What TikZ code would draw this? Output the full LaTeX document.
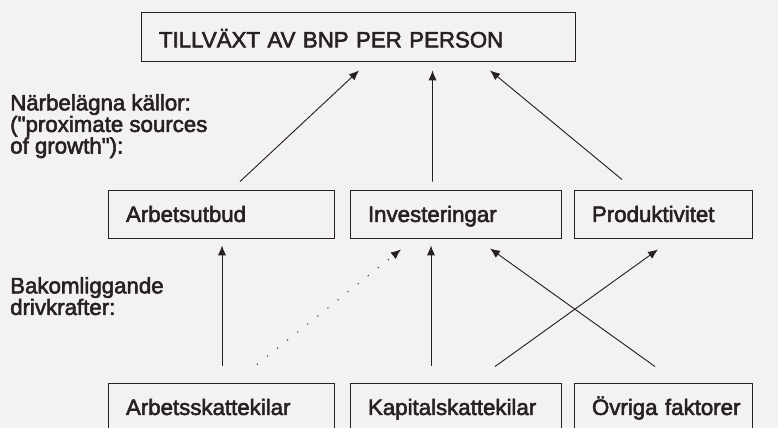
\documentclass[tikz,border=0pt]{standalone}
\usepackage{fontspec}
\setmainfont{Liberation Sans}[RawFeature={embolden=2.5}]
\usetikzlibrary{arrows.meta}
\definecolor{ink}{RGB}{38,33,38}
\definecolor{paper}{RGB}{243,242,240}
\newcommand{\bnpfont}{\fontsize{19}{18.4}\selectfont}

\begin{document}
\begin{tikzpicture}[
    box/.style={draw=ink, line width=0.8pt, text width=#1, align=left, minimum height=1.44cm, inner xsep=0.15cm, text height=13.6pt, text depth=0pt, font=\bnpfont, text=ink, execute at begin node={\hspace*{0.39cm}}},
    lbl/.style={align=left, inner sep=0pt, anchor=north west, font=\bnpfont, text=ink},
    arrow/.style={-{Latex[length=3mm, width=2.5mm]}, line width=0.8pt, draw=ink},
    dots/.style={arrow, dash pattern=on 1pt off 10pt}
]
    \fill[paper] (0,0) rectangle (23.34,12.84);
    \useasboundingbox (0,0) rectangle (23.34,12.84);

    \node[box=12.72cm, minimum height=1.47cm, text height=18.7pt] (bnp) at (10.74, 11.745) {TILLVÄXT AV BNP PER PERSON};

    \node[box=6.48cm] (arb) at (6.63, 6.42) {Arbetsutbud};
    \node[box=6.03cm] (inv) at (13.665, 6.42) {Investeringar};
    \node[box=5.04cm] (prod) at (19.89, 6.42) {Produktivitet};

    \node[box=6.48cm] (ask) at (6.63, 0.63) {Arbetsskattekilar};
    \node[box=6.03cm] (ksk) at (13.665, 0.63) {Kapitalskattekilar};
    \node[box=5.04cm] (ovr) at (19.89, 0.63) {Övriga faktorer};

    \node[lbl] (near) at (0.3, 10.02) {Närbelägna källor:\\(\textquotedbl proximate sources\\of growth\textquotedbl):};
    \node[lbl] (bak) at (0.3, 4.53) {Bakomliggande\\drivkrafter:};

    \draw[arrow] ([xshift=0.57cm, yshift=0.24cm]arb.north) -- ([xshift=0.03cm, yshift=-0.27cm]bnp.south);
    \draw[arrow] ([xshift=-0.69cm, yshift=0.24cm]inv.north) -- ([xshift=2.235cm, yshift=-0.27cm]bnp.south);
    \draw[arrow] ([xshift=-1.23cm, yshift=0.3cm]prod.north) -- ([xshift=3.96cm, yshift=-0.27cm]bnp.south);

    \draw[arrow] ([xshift=0.03cm, yshift=0.51cm]ask.north) -- ([xshift=0.03cm, yshift=-0.21cm]arb.south);
    \draw[dots] ([xshift=1.08cm, yshift=0.54cm]ask.north) -- ([xshift=-1.635cm, yshift=-0.33cm]inv.south);
    \draw[arrow] ([xshift=-0.735cm, yshift=0.51cm]ksk.north) -- ([xshift=-0.735cm, yshift=-0.21cm]inv.south);
    \draw[arrow] ([xshift=1.185cm, yshift=0.48cm]ksk.north) -- ([xshift=-0.15cm, yshift=-0.33cm]prod.south);
    \draw[arrow] ([xshift=-0.24cm, yshift=0.48cm]ovr.north) -- ([xshift=1.035cm, yshift=-0.3cm]inv.south);
\end{tikzpicture}
\end{document}
